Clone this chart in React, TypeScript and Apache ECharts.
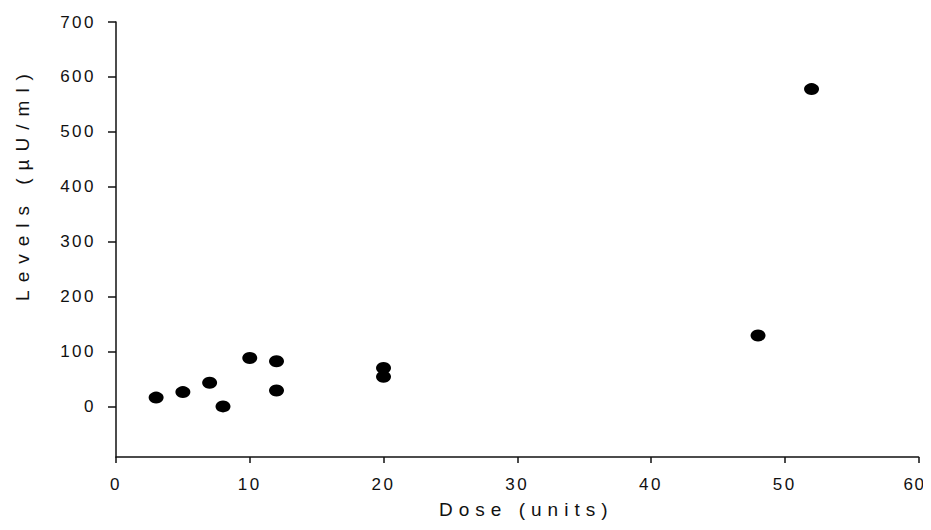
import React, { useEffect, useRef } from "react";
import * as echarts from "echarts";

const doseUnits = [3, 5, 7, 8, 10, 12, 12, 20, 20, 48, 52];
const levels = [17, 27, 44, 1, 89, 83, 30, 71, 55, 130, 578];
const yTickValues = [0, 100, 200, 300, 400, 500, 600, 700];
const xTickValues = [0, 10, 20, 30, 40, 50, 60];
const xTitle = "Dose (units)";
const yTitle = "Levels (µU/ml)";

export default function App() {
  const ref = useRef<HTMLDivElement>(null);
  useEffect(() => {
    const chart = echarts.init(ref.current!, null, { renderer: "svg" });
    const font = "Liberation Sans";
    chart.setOption({
      animation: false,
      backgroundColor: "#ffffff",
      grid: { left: 116, right: 10, top: 22, bottom: 73, containLabel: false },
      xAxis: {
        type: "value",
        min: 0,
        max: 60,
        interval: 10,
        name: xTitle,
        nameLocation: "middle",
        nameGap: 43,
        nameTextStyle: { color: "#111", fontSize: 19, fontFamily: font, padding: [0, 0, 0, 18] },
        axisLine: { show: true, onZero: false, lineStyle: { color: "#111", width: 1.5 } },
        axisTick: { show: true, inside: false, length: 6, lineStyle: { color: "#111", width: 1.5 } },
        axisLabel: { color: "#111", fontSize: 17, fontFamily: font, margin: 19, customValues: xTickValues },
        splitLine: { show: false },
      },
      yAxis: {
        type: "value",
        min: -91,
        max: 700,
        name: yTitle,
        nameLocation: "middle",
        nameGap: 84,
        nameRotate: 90,
        nameTextStyle: { color: "#111", fontSize: 19, fontFamily: font, padding: [0, 0, 0, 112] },
        axisLine: { show: true, onZero: false, lineStyle: { color: "#111", width: 1.5 } },
        axisTick: { show: true, inside: false, length: 8, customValues: yTickValues, lineStyle: { color: "#111", width: 1.5 } },
        axisLabel: { color: "#111", fontSize: 17, fontFamily: font, margin: 20, customValues: yTickValues },
        splitLine: { show: false },
      },
      series: [
        {
          type: "scatter",
          data: doseUnits.map((d, i) => [d, levels[i]]),
          symbol: "circle",
          symbolSize: [15, 12],
          itemStyle: { color: "#000", opacity: 1 },
        },
      ],
    });
    const spacing = () => {
      const dom = chart.getDom();
      dom.querySelectorAll("text").forEach((t) => {
        const s = (t.textContent || "").trim();
        const el = t as SVGTextElement;
        if (s === xTitle) el.style.letterSpacing = "6px";
        else if (s === yTitle) el.style.letterSpacing = "8px";
        else if (s === "60") {
          el.style.letterSpacing = "1.5px";
          el.setAttribute("dx", "-4");
        } else el.style.letterSpacing = "2.5px";
      });
    };
    chart.on("rendered", spacing);
    spacing();
    const timer = setTimeout(spacing, 50);
    return () => {
      clearTimeout(timer);
      chart.dispose();
    };
  }, []);
  return <div ref={ref} style={{ width: 931, height: 530, marginLeft: -8, marginTop: -8 }} />;
}
